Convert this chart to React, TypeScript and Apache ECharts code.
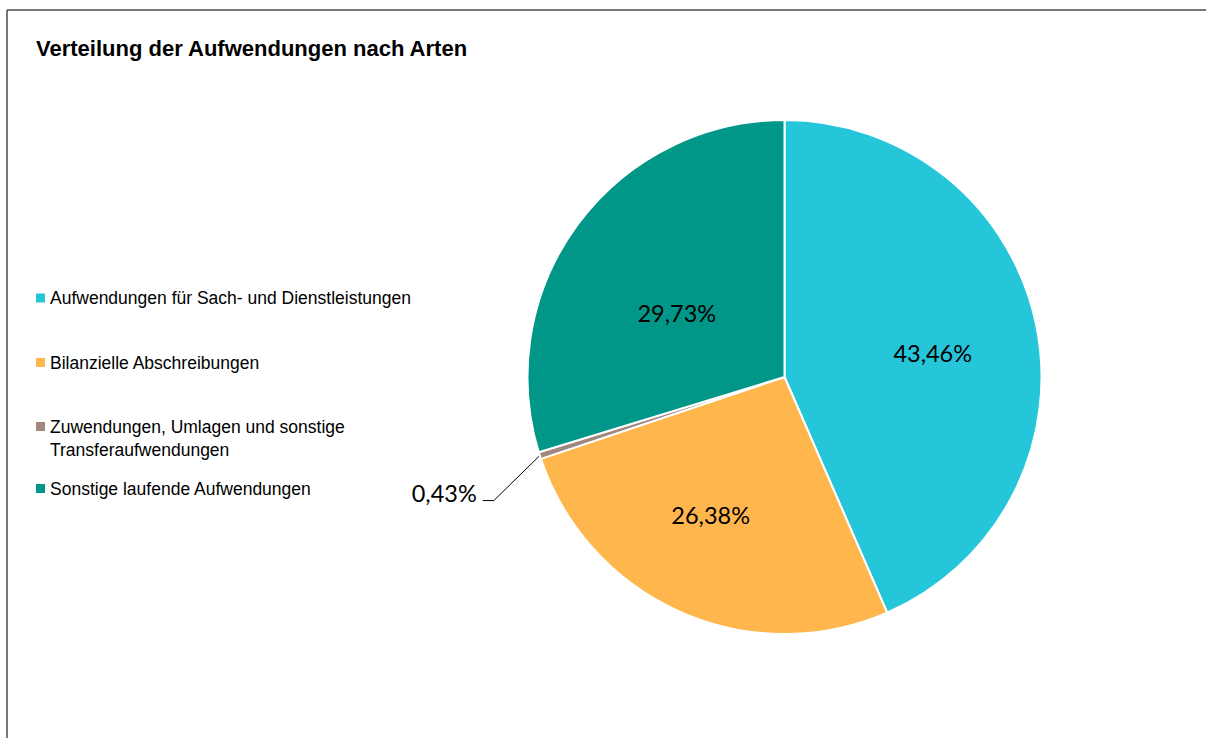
import { useEffect, useRef } from 'react';
import * as echarts from 'echarts';

const titleText = 'Verteilung der Aufwendungen nach Arten';
const categories = [
  'Aufwendungen für Sach- und Dienstleistungen',
  'Bilanzielle Abschreibungen',
  'Zuwendungen, Umlagen und sonstige Transferaufwendungen',
  'Sonstige laufende Aufwendungen',
];
const shares = [43.46, 26.38, 0.43, 29.73];
const colors = ['#26C6DA', '#FFB74D', '#A1887F', '#009688'];

// styling / layout
const legendMarkerY = [298, 362.5, 426.5, 488.5];
const legendLineHeight = 23;
const labelOffsets: [number, number][] = [[19.5, 3], [-20.5, 17.5], [0, 0], [-2, 14.5]];
// square marker placed at the top of a taller box so it lines up with the first text line
const topSquareIcon = 'path://M0,0h9v9h-9z M0,32L0,32';

const fmt = (v: number) => v.toFixed(2).replace('.', ',') + '%';

export default function App() {
  const ref = useRef<HTMLDivElement>(null);
  useEffect(() => {
    if (!ref.current) return;
    const chart = echarts.init(ref.current, undefined, { renderer: 'svg' });
    const legends = categories.map((name, i) => {
      const twoLine = i === 2;
      const top = twoLine
        ? legendMarkerY[i] - 4.5 - (2 * legendLineHeight - 32) / 2
        : legendMarkerY[i] - legendLineHeight / 2;
      return {
        data: [name],
        orient: 'vertical',
        left: 36,
        top,
        padding: 0,
        icon: twoLine ? topSquareIcon : 'rect',
        itemWidth: 9,
        itemHeight: twoLine ? 32 : 9,
        selectedMode: false,
        itemStyle: { borderWidth: 0 },
        textStyle: {
          fontFamily: 'Liberation Sans',
          fontSize: 17.5,
          color: '#000',
          lineHeight: legendLineHeight,
          ...(twoLine ? { width: 365, overflow: 'break' } : {}),
        },
      };
    });
    chart.setOption({
      animation: false,
      backgroundColor: '#fff',
      title: {
        text: titleText,
        left: 36,
        top: 37,
        padding: 0,
        textStyle: {
          fontFamily: 'Liberation Sans',
          fontSize: 22,
          fontWeight: 'bold',
          color: '#000',
        },
      },
      legend: legends,
      graphic: [
        { type: 'line', shape: { x1: 7, y1: 10, x2: 1206, y2: 10 }, style: { stroke: '#4a4a4a', lineWidth: 1.5 } },
        { type: 'line', shape: { x1: 7, y1: 10, x2: 7, y2: 738 }, style: { stroke: '#4a4a4a', lineWidth: 1.5 } },
      ],
      series: [
        {
          type: 'pie',
          center: [784.5, 377],
          radius: [0, 257],
          startAngle: 90,
          clockwise: true,
          avoidLabelOverlap: false,
          silent: true,
          itemStyle: { borderColor: '#fff', borderWidth: 2 },
          label: {
            show: true,
            position: 'inside',
            fontFamily: 'Lato',
            fontSize: 23.5,
            color: '#000',
            formatter: (p: any) => fmt(p.value),
          },
          labelLine: { show: false },
          emphasis: { disabled: true },
          labelLayout: (p: any) => {
            if (p.dataIndex !== 2 || !p.labelLinePoints) return {};
            const [x0, y0] = p.labelLinePoints[0];
            return {
              x: x0 - 63,
              y: y0 + 37.5,
              align: 'right',
              verticalAlign: 'middle',
              labelLinePoints: [
                [x0, y0],
                [x0 - 46, y0 + 45],
                [x0 - 57, y0 + 45],
              ],
            };
          },
          data: shares.map((v, i) => ({
            name: categories[i],
            value: v,
            itemStyle: { color: colors[i] },
            label: i === 2 ? { position: 'outside' } : { offset: labelOffsets[i] },
            labelLine: i === 2 ? { show: true, lineStyle: { color: '#000', width: 1 } } : { show: false },
          })),
        },
      ],
    });
    return () => chart.dispose();
  }, []);
  return (
    <div
      ref={ref}
      style={{ position: 'fixed', left: 0, top: 0, width: 1206, height: 738, background: '#fff' }}
    />
  );
}
